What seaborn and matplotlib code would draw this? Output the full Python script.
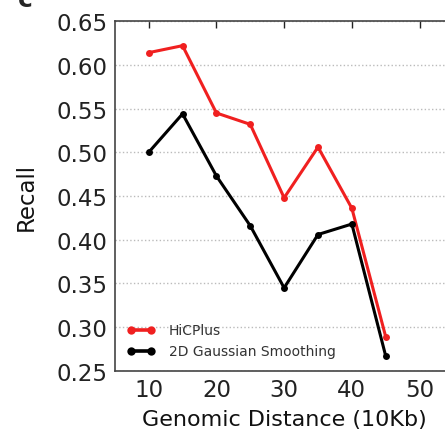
import matplotlib
matplotlib.use("Agg")
import matplotlib.pyplot as plt
import seaborn as sns
import pandas as pd

distance = [10, 15, 20, 25, 30, 35, 40, 45]
hicplus = [0.614, 0.622, 0.545, 0.532, 0.448, 0.506, 0.436, 0.289]
gaussian = [0.500, 0.544, 0.473, 0.416, 0.345, 0.406, 0.418, 0.267]
series_names = ["HiCPlus", "2D Gaussian Smoothing"]
colors = ["#f02020", "#000000"]

df = pd.DataFrame({
    "Distance": distance * 2,
    "Recall": hicplus + gaussian,
    "Method": [series_names[0]] * len(distance) + [series_names[1]] * len(distance),
})

sns.set_style("white")
plt.rcParams["font.family"] = ["DejaVu Sans"]

fig = plt.figure(figsize=(4.45, 4.35), dpi=100)
ax = fig.add_axes([0.258, 0.145, 0.761, 0.804])

sns.lineplot(data=df, x="Distance", y="Recall", hue="Method", palette=colors,
             marker="o", markersize=5, markeredgewidth=0, linewidth=2.2, ax=ax)

ax.set_xlim(5, 55)
ax.set_ylim(0.25, 0.65)
ax.set_xticks([10, 20, 30, 40, 50])
ax.set_yticks([0.25, 0.30, 0.35, 0.40, 0.45, 0.50, 0.55, 0.60, 0.65])
ax.set_yticklabels([f"{v:.2f}" for v in ax.get_yticks()])
ax.yaxis.grid(True, linestyle=":", color="#bbbbbb", linewidth=1)
ax.xaxis.grid(False)
ax.tick_params(axis="both", direction="in", labelsize=16.5, colors="#222222",
               length=5, width=1, top=True, right=True, pad=5)
ax.tick_params(axis="both", labelcolor="#222222")
for s in ax.spines.values():
    s.set_color("#444444")
    s.set_linewidth(1.2)

ax.set_xlabel("Genomic Distance (10Kb)", fontsize=16, labelpad=6, color="#111111")
ax.set_ylabel("Recall", fontsize=16.5, labelpad=14, color="#111111")

leg = ax.legend(loc="lower left", frameon=False, fontsize=10, handlelength=2,
                numpoints=2, borderaxespad=0.3, labelspacing=0.5,
                handletextpad=1.0, borderpad=0.6)
for t in leg.get_texts():
    t.set_color("#333333")
for h in leg.get_lines():
    h.set_markersize(6)
    h.set_linewidth(2.6)

fig.text(0.04, 1.0, "c", fontsize=18, fontweight="bold", va="center", ha="left")

fig.savefig("out.png", dpi=100)
